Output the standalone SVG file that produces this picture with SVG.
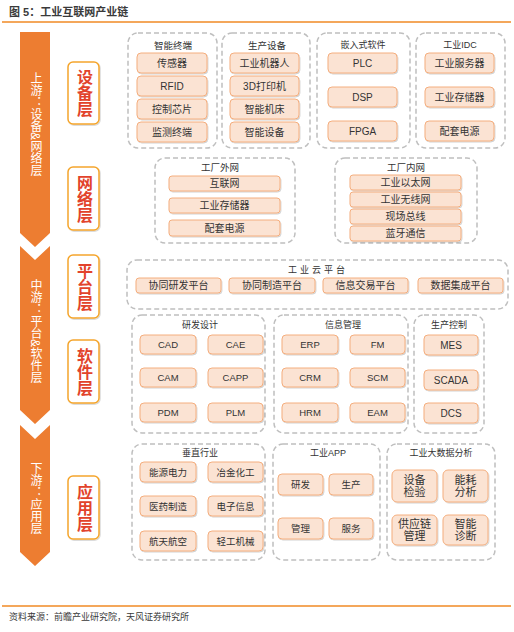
<svg xmlns="http://www.w3.org/2000/svg" width="514" height="632" viewBox="0 0 514 632">
<defs>
<filter id="sh" x="-20%" y="-20%" width="140%" height="160%"><feDropShadow dx="0.8" dy="1" stdDeviation="0.7" flood-color="#000" flood-opacity="0.18"/></filter>
<style>
text{font-family:"Liberation Sans","Noto Sans CJK SC",sans-serif;fill:#333}
.grp{fill:none;stroke:#BFBFBF;stroke-width:1.5;stroke-dasharray:5 3}
.box{fill:#FBE3D3;stroke:#F4AE7E;stroke-width:1;filter:url(#sh)}
.t{text-anchor:middle;dominant-baseline:central;font-size:10px}
.ts{text-anchor:middle;dominant-baseline:central;font-size:9.5px}
.gt{text-anchor:middle;dominant-baseline:central;font-size:9px}
.lbl{fill:#fff;stroke:#F5A52C;stroke-width:1.5;filter:url(#sh)}
.lt{writing-mode:vertical-rl;text-anchor:middle;font-size:16px;font-weight:bold;fill:#E2432B}
.chev{fill:#ED7D31}
.ct{writing-mode:vertical-rl;text-anchor:middle;font-size:12px;fill:#fff}
.rule{stroke:#F08A24;stroke-width:1.5}
</style>
</defs>
<rect width="514" height="632" fill="#fff"/>
<g id="header">
<text x="9" y="16" style="font-size:11px;font-weight:bold;fill:#3a3a3a">图 5：工业互联网产业链</text>
<line class="rule" x1="2" y1="22" x2="511" y2="22"/>
</g>
<g id="stream-up"><path class="chev" d="M20,32H50V233L35,247L20,233Z"/><text class="ct" x="35" y="124">上游：设备&amp;网络层</text></g>
<g id="stream-mid"><path class="chev" d="M20,246L35,260L50,246V410L35,424L20,410Z"/><text class="ct" x="35" y="331">中游：平台&amp;软件层</text></g>
<g id="stream-down"><path class="chev" d="M20,425L35,439L50,425V552L35,566L20,552Z"/><text class="ct" x="35" y="498">下游：应用层</text></g>

<g id="layer-device"><rect class="lbl" x="68" y="62" width="31" height="62" rx="5"/><text class="lt" x="83.5" y="93">设备层</text></g>
<g id="layer-network"><rect class="lbl" x="68" y="167" width="31" height="63" rx="5"/><text class="lt" x="83.5" y="198.5">网络层</text></g>
<g id="layer-platform"><rect class="lbl" x="68" y="255" width="31" height="63" rx="5"/><text class="lt" x="83.5" y="286.5">平台层</text></g>
<g id="layer-software"><rect class="lbl" x="68" y="340" width="31" height="63" rx="5"/><text class="lt" x="83.5" y="371.5">软件层</text></g>
<g id="layer-app"><rect class="lbl" x="68" y="476" width="31" height="63" rx="5"/><text class="lt" x="83.5" y="507.5">应用层</text></g>

<g id="g-terminal">
<rect class="grp" x="128" y="33" width="89" height="115" rx="10"/>
<text class="gt" x="173" y="45" style="font-size:9.5px">智能终端</text>
<rect class="box" x="137" y="53" width="70" height="20" rx="4"/><text class="t" x="172" y="63">传感器</text>
<rect class="box" x="137" y="76" width="70" height="20" rx="4"/><text class="t" x="172" y="86">RFID</text>
<rect class="box" x="137" y="99" width="70" height="20" rx="4"/><text class="t" x="172" y="109">控制芯片</text>
<rect class="box" x="137" y="122" width="70" height="20" rx="4"/><text class="t" x="172" y="132">监测终端</text>
</g>
<g id="g-production">
<rect class="grp" x="222" y="33" width="88" height="115" rx="10"/>
<text class="gt" x="267" y="45" style="font-size:9.5px">生产设备</text>
<rect class="box" x="230" y="53" width="69" height="20" rx="4"/><text class="t" x="264.5" y="63">工业机器人</text>
<rect class="box" x="230" y="76" width="69" height="20" rx="4"/><text class="t" x="264.5" y="86">3D打印机</text>
<rect class="box" x="230" y="99" width="69" height="20" rx="4"/><text class="t" x="264.5" y="109">智能机床</text>
<rect class="box" x="230" y="122" width="69" height="20" rx="4"/><text class="t" x="264.5" y="132">智能设备</text>
</g>
<g id="g-embedded">
<rect class="grp" x="317" y="33" width="93" height="115" rx="10"/>
<text class="gt" x="363" y="45">嵌入式软件</text>
<rect class="box" x="328" y="53" width="69" height="20" rx="4"/><text class="t" x="362.5" y="63">PLC</text>
<rect class="box" x="328" y="87" width="69" height="20" rx="4"/><text class="t" x="362.5" y="97">DSP</text>
<rect class="box" x="328" y="121" width="69" height="20" rx="4"/><text class="t" x="362.5" y="131">FPGA</text>
</g>
<g id="g-idc">
<rect class="grp" x="416" y="33" width="89" height="115" rx="10"/>
<text class="gt" x="460" y="45">工业IDC</text>
<rect class="box" x="425" y="53" width="69" height="20" rx="4"/><text class="t" x="459.5" y="63">工业服务器</text>
<rect class="box" x="425" y="87" width="69" height="20" rx="4"/><text class="t" x="459.5" y="97">工业存储器</text>
<rect class="box" x="425" y="121" width="69" height="20" rx="4"/><text class="t" x="459.5" y="131">配套电源</text>
</g>

<g id="g-external-net">
<rect class="grp" x="155" y="158" width="140" height="85" rx="10"/>
<text class="gt" x="220" y="167" style="font-size:9.5px">工厂外网</text>
<rect class="box" x="169" y="176" width="111" height="15" rx="3"/><text class="t" x="224.5" y="183.5">互联网</text>
<rect class="box" x="169" y="198" width="111" height="15" rx="3"/><text class="t" x="224.5" y="205.5">工业存储器</text>
<rect class="box" x="169" y="220" width="111" height="16" rx="3"/><text class="t" x="224.5" y="228">配套电源</text>
</g>
<g id="g-internal-net">
<rect class="grp" x="335" y="158" width="142" height="85" rx="10"/>
<text class="gt" x="406" y="167" style="font-size:9.5px">工厂内网</text>
<rect class="box" x="350" y="175" width="111" height="15" rx="3"/><text class="t" x="405.5" y="182.5">工业以太网</text>
<rect class="box" x="350" y="192" width="111" height="15" rx="3"/><text class="t" x="405.5" y="199.5">工业无线网</text>
<rect class="box" x="350" y="209" width="111" height="15" rx="3"/><text class="t" x="405.5" y="216.5">现场总线</text>
<rect class="box" x="350" y="226" width="111" height="15" rx="3"/><text class="t" x="405.5" y="233.5">蓝牙通信</text>
</g>

<g id="g-cloud">
<rect class="grp" x="127" y="260" width="381" height="49" rx="10"/>
<text class="gt" x="318" y="270" style="letter-spacing:3px">工业云平台</text>
<rect class="box" x="136" y="278" width="85" height="15" rx="3"/><text class="t" x="178.5" y="285.5">协同研发平台</text>
<rect class="box" x="229" y="278" width="86" height="15" rx="3"/><text class="t" x="272" y="285.5">协同制造平台</text>
<rect class="box" x="323" y="278" width="85" height="15" rx="3"/><text class="t" x="365.5" y="285.5">信息交易平台</text>
<rect class="box" x="418" y="278" width="85" height="15" rx="3"/><text class="t" x="460.5" y="285.5">数据集成平台</text>
</g>

<g id="g-rd">
<rect class="grp" x="132" y="315" width="133" height="118" rx="10"/>
<text class="gt" x="200" y="325">研发设计</text>
<rect class="box" x="140" y="335" width="56" height="19" rx="4"/><text class="ts" x="168" y="344.5">CAD</text>
<rect class="box" x="208" y="335" width="55" height="19" rx="4"/><text class="ts" x="235.5" y="344.5">CAE</text>
<rect class="box" x="140" y="368" width="56" height="19" rx="4"/><text class="ts" x="168" y="377.5">CAM</text>
<rect class="box" x="208" y="368" width="55" height="19" rx="4"/><text class="ts" x="235.5" y="377.5">CAPP</text>
<rect class="box" x="140" y="403" width="56" height="19" rx="4"/><text class="ts" x="168" y="412.5">PDM</text>
<rect class="box" x="208" y="403" width="55" height="19" rx="4"/><text class="ts" x="235.5" y="412.5">PLM</text>
</g>
<g id="g-info">
<rect class="grp" x="274" y="315" width="134" height="118" rx="10"/>
<text class="gt" x="343" y="325">信息管理</text>
<rect class="box" x="282" y="335" width="56" height="19" rx="4"/><text class="ts" x="310" y="344.5">ERP</text>
<rect class="box" x="350" y="335" width="55" height="19" rx="4"/><text class="ts" x="377.5" y="344.5">FM</text>
<rect class="box" x="282" y="368" width="56" height="19" rx="4"/><text class="ts" x="310" y="377.5">CRM</text>
<rect class="box" x="350" y="368" width="55" height="19" rx="4"/><text class="ts" x="377.5" y="377.5">SCM</text>
<rect class="box" x="282" y="403" width="56" height="19" rx="4"/><text class="ts" x="310" y="412.5">HRM</text>
<rect class="box" x="350" y="403" width="55" height="19" rx="4"/><text class="ts" x="377.5" y="412.5">EAM</text>
</g>
<g id="g-control">
<rect class="grp" x="414" y="315" width="70" height="118" rx="10"/>
<text class="gt" x="449" y="325">生产控制</text>
<rect class="box" x="424" y="335" width="54" height="20" rx="4"/><text class="t" x="451" y="345">MES</text>
<rect class="box" x="424" y="370" width="54" height="20" rx="4"/><text class="t" x="451" y="380">SCADA</text>
<rect class="box" x="424" y="403" width="54" height="20" rx="4"/><text class="t" x="451" y="413">DCS</text>
</g>

<g id="g-vertical">
<rect class="grp" x="132" y="444" width="133" height="116" rx="10"/>
<text class="gt" x="200" y="453">垂直行业</text>
<rect class="box" x="140" y="462" width="56" height="20" rx="4"/><text class="ts" x="168" y="472">能源电力</text>
<rect class="box" x="208" y="462" width="55" height="20" rx="4"/><text class="ts" x="235.5" y="472">冶金化工</text>
<rect class="box" x="140" y="496" width="56" height="20" rx="4"/><text class="ts" x="168" y="506">医药制造</text>
<rect class="box" x="208" y="496" width="55" height="20" rx="4"/><text class="ts" x="235.5" y="506">电子信息</text>
<rect class="box" x="140" y="531" width="56" height="20" rx="4"/><text class="ts" x="168" y="541">航天航空</text>
<rect class="box" x="208" y="531" width="55" height="20" rx="4"/><text class="ts" x="235.5" y="541">轻工机械</text>
</g>
<g id="g-app">
<rect class="grp" x="273" y="444" width="107" height="116" rx="10"/>
<text class="gt" x="328" y="453">工业APP</text>
<rect class="box" x="278" y="474" width="45" height="21" rx="4"/><text class="ts" x="300.5" y="484.5">研发</text>
<rect class="box" x="329" y="474" width="44" height="21" rx="4"/><text class="ts" x="351" y="484.5">生产</text>
<rect class="box" x="278" y="518" width="45" height="21" rx="4"/><text class="ts" x="300.5" y="528.5">管理</text>
<rect class="box" x="329" y="518" width="44" height="21" rx="4"/><text class="ts" x="351" y="528.5">服务</text>
</g>
<g id="g-bigdata">
<rect class="grp" x="387" y="444" width="108" height="116" rx="10"/>
<text class="gt" x="441" y="453">工业大数据分析</text>
<rect class="box" x="392" y="470" width="45" height="32" rx="5"/><text class="t" x="414.5" y="486" style="font-size:11px"><tspan x="414.5" dy="-6">设备</tspan><tspan x="414.5" dy="12">检验</tspan></text>
<rect class="box" x="443" y="470" width="45" height="32" rx="5"/><text class="t" x="465.5" y="486" style="font-size:11px"><tspan x="465.5" dy="-6">能耗</tspan><tspan x="465.5" dy="12">分析</tspan></text>
<rect class="box" x="392" y="515" width="45" height="30" rx="5"/><text class="t" x="414.5" y="530" style="font-size:11px"><tspan x="414.5" dy="-6">供应链</tspan><tspan x="414.5" dy="12">管理</tspan></text>
<rect class="box" x="443" y="515" width="45" height="30" rx="5"/><text class="t" x="465.5" y="530" style="font-size:11px"><tspan x="465.5" dy="-6">智能</tspan><tspan x="465.5" dy="12">诊断</tspan></text>
</g>
<g id="connectors"></g>
<g id="footer">
<line class="rule" x1="2" y1="606" x2="511" y2="606"/>
<text x="9" y="620" style="font-size:9px;fill:#3a3a3a">资料来源：前瞻产业研究院，天风证券研究所</text>
</g>
</svg>
